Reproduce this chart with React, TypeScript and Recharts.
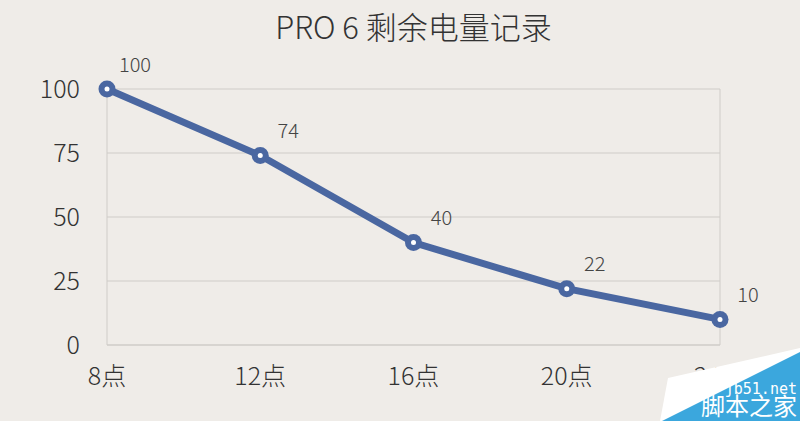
import React from 'react';
import { LineChart, Line, XAxis, YAxis, CartesianGrid, LabelList, ReferenceLine } from 'recharts';

const categories = ['8点', '12点', '16点', '20点', '24点'];
const battery = [100, 74, 40, 22, 10];
const yTicks = [0, 25, 50, 75, 100];
const title = 'PRO 6 剩余电量记录';

const data = categories.map((c, i) => ({ time: c, v: battery[i] }));

const FONT = '"Noto Sans CJK SC", "Noto Sans", sans-serif';
const BLUE = '#4a67a1';

const Dot = (props: any) => {
  const { cx, cy } = props;
  if (cx == null || cy == null) return null;
  return (
    <g>
      <circle cx={cx} cy={cy} r={8.5} fill={BLUE} />
      <circle cx={cx} cy={cy} r={2.5} fill="#ffffff" />
    </g>
  );
};

const ValueLabel = (props: any) => {
  const { x, y, value } = props;
  return (
    <text x={x + 28} y={y - 26} textAnchor="middle" dominantBaseline="central" fontSize={20} fontWeight={300} fill="#444" fontFamily={FONT}>
      {value}
    </text>
  );
};

export default function App() {
  return (
    <div style={{ position: 'absolute', left: 0, top: 0, width: 800, height: 421, background: '#efece8', overflow: 'hidden', fontFamily: FONT }}>
      <div style={{ position: 'absolute', left: 0, width: 827, top: 4, textAlign: 'center', fontSize: 31, fontWeight: 300, color: '#333', lineHeight: '44px' }}>
        {title}
      </div>
      <LineChart width={800} height={421} data={data} margin={{ top: 89, right: 80, bottom: 36, left: 0 }}>
        <CartesianGrid vertical={false} stroke="#cfccc8" strokeWidth={1} />
        <ReferenceLine x="24点" stroke="#cfccc8" strokeWidth={1} />
        <XAxis
          dataKey="time"
          scale="point"
          padding={{ left: 0, right: 0 }}
          axisLine={{ stroke: '#cfccc8' }}
          tickLine={false}
          tickSize={0}
          tickMargin={22}
          height={40}
          interval={0}
          tick={{ fontSize: 25, fontWeight: 300, fill: '#333', fontFamily: FONT }}
        />
        <YAxis
          domain={[0, 100]}
          ticks={yTicks}
          width={107}
          axisLine={{ stroke: '#cfccc8' }}
          tickLine={false}
          tickSize={0}
          tickMargin={27}
          tick={{ fontSize: 25, fontWeight: 300, fill: '#333', fontFamily: FONT }}
        />
        <Line
          type="linear"
          dataKey="v"
          stroke={BLUE}
          strokeWidth={7}
          dot={<Dot />}
          activeDot={false}
          isAnimationActive={false}
        >
          <LabelList dataKey="v" content={<ValueLabel />} />
        </Line>
      </LineChart>
      <svg width={800} height={421} style={{ position: 'absolute', left: 0, top: 0, pointerEvents: 'none' }}>
        <polygon points="660,421 668,378 800,348 800,421" fill="#ffffff" />
        <polygon points="662,421 800,352 800,421" fill="#3ba7dd" />
        <text x={797} y={394} textAnchor="end" fontSize={15} fill="#ffffff" fontFamily='"DejaVu Sans Mono", monospace'>jb51.net</text>
        <text x={797} y={415} textAnchor="end" fontSize={24} fill="#ffffff" fontFamily={FONT}>脚本之家</text>
      </svg>
    </div>
  );
}
